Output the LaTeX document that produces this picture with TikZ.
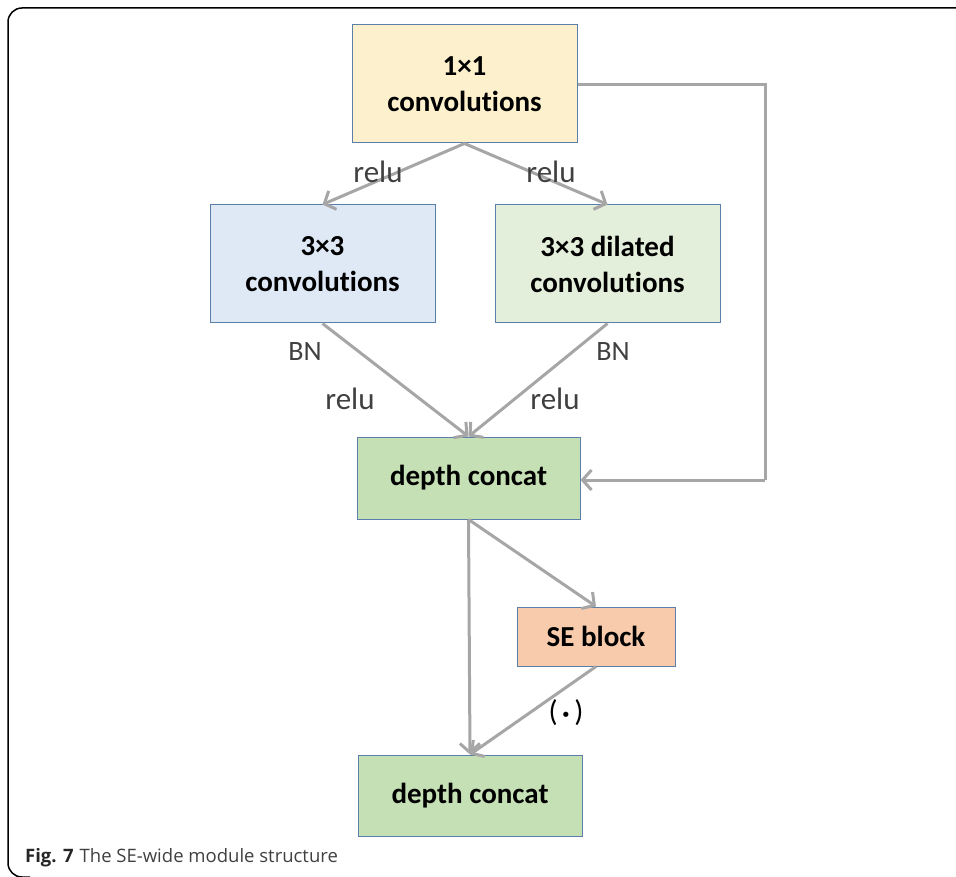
\documentclass[tikz,border=0pt]{standalone}
\usepackage{fontspec}
\setmainfont{Carlito}[Ligatures=NoCommon]
\newfontfamily\capfont{Open Sans}
\newfontfamily\symfont{DejaVu Sans}
\usetikzlibrary{arrows.meta}
\definecolor{edgeblue}{HTML}{5B7FA8}
\definecolor{linegray}{HTML}{A6A6A6}
\definecolor{lblgray}{HTML}{404040}
\definecolor{fyellow}{HTML}{FDF0CC}
\definecolor{fblue}{HTML}{DEE9F5}
\definecolor{fgreenl}{HTML}{E3EFDA}
\definecolor{fgreen}{HTML}{C5E0B4}
\definecolor{forange}{HTML}{F8CBAD}
\tikzset{
  boxnode/.style={draw=edgeblue, line width=1pt, inner sep=0pt, align=center,
    font=\fontsize{29}{36}\selectfont\bfseries, text=black},
  conn/.style={draw=linegray, line width=3pt,
    -{Straight Barb[length=9pt,width=20pt,line width=3pt]}},
  plain/.style={draw=linegray, line width=3pt},
  lbl/.style={text=lblgray, font=\fontsize{31}{34}\selectfont, inner sep=0pt},
}
\begin{document}
\begin{tikzpicture}[x=1pt,y=-1pt]
\useasboundingbox (0,0) rectangle (956,877);
% frame
\draw[black, line width=1.5pt, rounded corners=14pt] (957,8) -- (8,8) -- (8,877) -- (30,877);
% boxes
\node[boxnode, fill=fyellow, minimum width=225pt, minimum height=118pt] (c11) at (464.5,84) {1×1\\convolutions};
\node[boxnode, fill=fblue, minimum width=225pt, minimum height=118pt] (c33) at (322.5,264) {3×3\\convolutions};
\node[boxnode, fill=fgreenl, minimum width=225pt, minimum height=118pt] (dil) at (607.5,264) {3×3 dilated\\convolutions};
\node[boxnode, fill=fgreen, minimum width=223pt, minimum height=82pt] (dc1) at (468.5,478) {depth concat};
\node[boxnode, fill=forange, minimum width=158pt, minimum height=59pt] (se) at (596,636.5) {SE block};
\node[boxnode, fill=fgreen, minimum width=224pt, minimum height=81pt] (dc2) at (470,795.5) {depth concat};
% connectors
\coordinate (skipA) at (765,85);
\coordinate (skipB) at (765,480);
\draw[conn] (c11.south) -- (c33.north);
\draw[conn] (c11.south) -- (dil.north);
\draw[plain] (c11.east |- skipA) -- (skipA) -- (skipB);
\draw[conn] (skipB) -- (dc1.east |- skipB);
\draw[conn] (c33.south) -- (dc1.north);
\draw[conn] (dil.south) -- (dc1.north);
\draw[conn] (dc1.south) -- (dc2.north);
\draw[conn] (dc1.south) -- (se.north);
\draw[conn] (se.south) -- (dc2.north);
% labels
\node[lbl] (l1) at (378,172) {relu};
\node[lbl] (l2) at (551,172) {relu};
\node[lbl, font=\fontsize{28}{30}\selectfont] (l3) at (305,352) {BN};
\node[lbl] (l4) at (350,399) {relu};
\node[lbl, font=\fontsize{28}{30}\selectfont] (l5) at (613,352) {BN};
\node[lbl] (l6) at (555,399) {relu};
\node[lbl, text=black, font=\fontsize{30}{32}\selectfont] (l7) at (566,713) {(\hspace{3pt}{\symfont\fontsize{18}{20}\selectfont •}\hspace{3pt})};
% caption
\node[anchor=west, inner sep=0pt, text=lblgray, font=\capfont\fontsize{18.5}{22}\selectfont] (cap) at (25,858) {\textbf{\color{black!85}Fig. 7}\hspace{6pt}The SE-wide module structure};
\end{tikzpicture}
\end{document}
